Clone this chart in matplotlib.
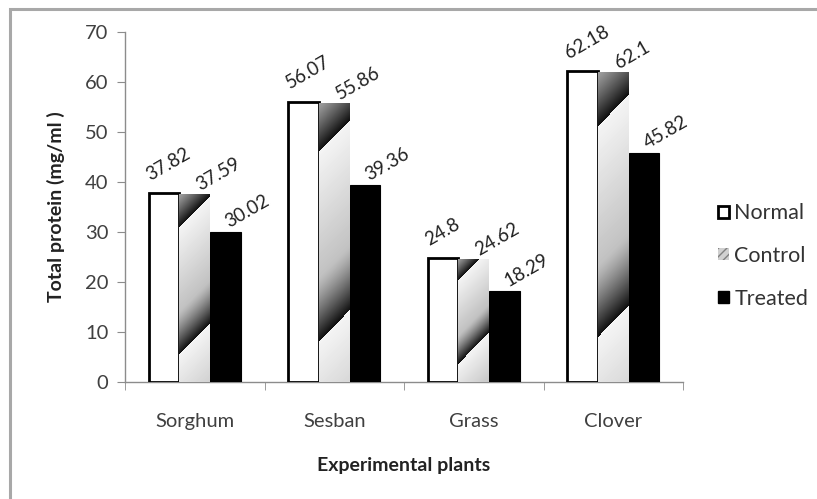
import numpy as np
import matplotlib
matplotlib.use("Agg")
import matplotlib.pyplot as plt
from matplotlib.patches import Patch, Rectangle

# =========================
# DATA
# =========================
plants = ["Sorghum", "Sesban", "Grass", "Clover"]
normal = [37.82, 56.07, 24.8, 62.18]
control = [37.59, 55.86, 24.62, 62.1]
treated = [30.02, 39.36, 18.29, 45.82]
label_text = {
    "normal": ["37.82", "56.07", "24.8", "62.18"],
    "control": ["37.59", "55.86", "24.62", "62.1"],
    "treated": ["30.02", "39.36", "18.29", "45.82"],
}
yticks = [0, 10, 20, 30, 40, 50, 60, 70]

plt.rcParams['font.family'] = ['Lato', 'DejaVu Sans']

W, H = 817, 499
fig = plt.figure(figsize=(W / 100, H / 100), dpi=100)

# gray outer frame (the picture border)
fig.patches.append(Rectangle((10 / W, -0.1), 1.2, (H - 9) / H + 0.1,
                             transform=fig.transFigure, fill=False,
                             edgecolor="#a8a8a8", linewidth=2.2))

ax = fig.add_axes([125 / W, (H - 382) / H, (683 - 125) / W, (382 - 32) / H])
ax.set_xlim(-0.5, 3.5)
ax.set_ylim(0, 70)

x = np.arange(len(plants))
bw = 0.22

b_norm = ax.bar(x - bw, normal, bw, color="white", edgecolor="black",
                linewidth=2, zorder=3)
b_ctrl = ax.bar(x, control, bw, color="none", edgecolor="none", zorder=3)
b_trt = ax.bar(x + bw, treated, bw, color="black", edgecolor="black",
               linewidth=0.8, zorder=3)

# diagonal gradient fill for Control bars
cmap = plt.get_cmap("gray")
for bar in b_ctrl:
    x0, y0 = bar.get_x(), bar.get_y()
    w, h = bar.get_width(), bar.get_height()
    p0 = ax.transData.transform((x0, y0))
    p1 = ax.transData.transform((x0 + w, y0 + h))
    wpx, hpx = p1[0] - p0[0], p1[1] - p0[1]
    nx, ny = int(wpx) + 1, int(hpx) + 1
    xl = np.linspace(0, wpx, nx)[None, :]
    d = np.linspace(0, hpx, ny)[:, None]   # depth from top
    P = 0.68 * hpx
    phase = np.mod((d + xl - 0.175 * hpx) / P, 1.0)
    tail = np.clip((phase - 0.66) / 0.34, 0, 1)
    bright = 0.96 - 0.3 * phase - 0.6 * tail ** 1.3
    im = ax.imshow(bright, cmap=cmap, vmin=0, vmax=1, aspect="auto",
                   extent=[x0, x0 + w, y0, y0 + h], origin="upper",
                   interpolation="bilinear", zorder=3)
    im.set_clip_path(bar)
ax.set_xlim(-0.5, 3.5)
ax.set_ylim(0, 70)

# data labels (Normal labels nudged up-left so they clear the Control ones)
for bars, key, off in [(b_norm, "normal", (-9, 7)),
                       (b_ctrl, "control", (5, 0)),
                       (b_trt, "treated", (4, 1))]:
    for bar, txt in zip(bars, label_text[key]):
        ax.annotate(txt, (bar.get_x() + bar.get_width() / 2, bar.get_height()),
                    xytext=off, textcoords="offset points",
                    rotation=30, rotation_mode="anchor", ha="left", va="bottom",
                    fontsize=13.5, color="#222222", zorder=4)

# axes styling
for s in ["top", "right"]:
    ax.spines[s].set_visible(False)
for s in ["left", "bottom"]:
    ax.spines[s].set_color("#8c8c8c")
    ax.spines[s].set_linewidth(1)

ax.set_yticks(yticks)
ax.tick_params(axis="y", direction="out", length=6, color="#8c8c8c",
               labelsize=14.5, labelcolor="#404040", pad=6)
ax.set_xticks(x)
ax.set_xticklabels(plants)
ax.tick_params(axis="x", which="major", length=0, labelsize=14.5,
               labelcolor="#404040", pad=22)
ax.set_xticks(np.arange(-0.5, 4, 1), minor=True)
ax.tick_params(axis="x", which="minor", direction="out", length=6,
               color="#8c8c8c")

ax.set_ylabel("Total protein (mg/ml )", fontsize=14, fontweight="bold",
              color="#222222", labelpad=14)
ax.set_xlabel("Experimental plants", fontsize=14, fontweight="bold",
              color="#222222", labelpad=20)

handles = [
    Patch(facecolor="white", edgecolor="black", linewidth=2),
    Patch(facecolor="#d0d0d0", edgecolor="#808080", hatch="////", linewidth=0),
    Patch(facecolor="black", edgecolor="black"),
]
fig.legend(handles, ["Normal", "Control", "Treated"], loc="center left",
           bbox_to_anchor=(718 / W, (H - 256) / H), frameon=False,
           borderaxespad=0, borderpad=0,
           fontsize=15.5, handlelength=0.5, handleheight=0.5,
           handletextpad=0.25, labelspacing=1.05, labelcolor="#333333")

fig.savefig("out.png", dpi=100)
